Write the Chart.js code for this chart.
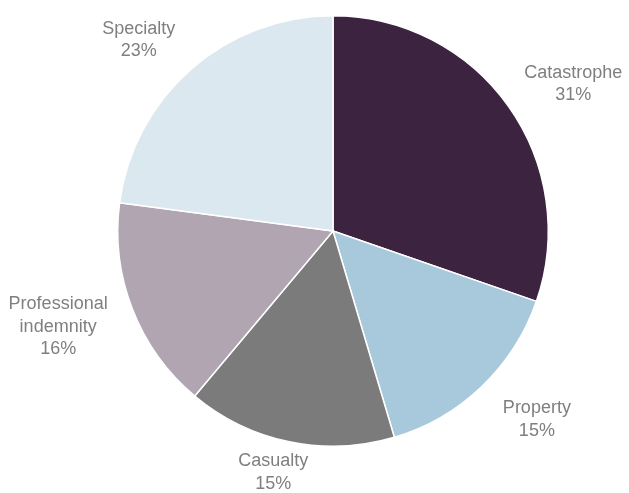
<!DOCTYPE html>
<html>
<head>
<meta charset="utf-8">
<script src="https://cdn.jsdelivr.net/npm/chart.js@4/dist/chart.umd.min.js"></script>
<style>
  html, body { margin: 0; padding: 0; background: #fff; }
  canvas { display: block; }
</style>
</head>
<body>
<canvas id="pieChart" width="629" height="493"></canvas>
<script>
  const categories = ['Catastrophe', 'Property', 'Casualty', 'Professional indemnity', 'Specialty'];
  const labelLines = [['Catastrophe'], ['Property'], ['Casualty'], ['Professional', 'indemnity'], ['Specialty']];
  // slice sizes
  const shares = [30.3, 15.1, 15.7, 16.0, 22.9];
  // percentages as printed on the chart
  const pctLabels = ['31%', '15%', '15%', '16%', '23%'];
  const sliceColors = ['#3c2340', '#a8c8dc', '#7b7b7b', '#b1a5b1', '#dce8f0'];

  // outside-end labels, pushed a bit wider horizontally and kept inside the canvas
  const outsideLabels = {
    id: 'outsideLabels',
    afterDatasetsDraw(chart) {
      const ctx = chart.ctx;
      const meta = chart.getDatasetMeta(0);
      const lh = 22.5;
      ctx.save();
      ctx.font = '18px "Liberation Sans", Arial, sans-serif';
      ctx.fillStyle = '#7f7f7f';
      ctx.textAlign = 'center';
      ctx.textBaseline = 'middle';
      meta.data.forEach((arc, i) => {
        const r = arc.outerRadius;
        const mid = (arc.startAngle + arc.endAngle) / 2;
        const lines = labelLines[i].concat([pctLabels[i]]);
        const w = Math.max(...lines.map(t => ctx.measureText(t).width));
        const halfH = (lines.length - 1) * lh / 2 + 9;
        let cx = arc.x + Math.cos(mid) * r * 1.37;
        let cy = arc.y + Math.sin(mid) * r * 1.195 + 2.5;
        cx = Math.min(Math.max(cx, w / 2), chart.width - w / 2);
        cy = Math.min(Math.max(cy, halfH), chart.height - halfH);
        const top = cy - (lines.length - 1) * lh / 2;
        lines.forEach((t, k) => ctx.fillText(t, cx, top + k * lh));
      });
      ctx.restore();
    }
  };

  new Chart(document.getElementById('pieChart').getContext('2d'), {
    type: 'pie',
    data: {
      labels: categories,
      datasets: [{
        data: shares,
        backgroundColor: sliceColors,
        borderColor: '#ffffff',
        borderWidth: 1.5
      }]
    },
    options: {
      responsive: false,
      animation: false,
      layout: {
        padding: { left: 117, right: 80, top: 15, bottom: 46 }
      },
      plugins: {
        legend: { display: false },
        tooltip: { enabled: false }
      }
    },
    plugins: [outsideLabels]
  });
</script>
</body>
</html>
